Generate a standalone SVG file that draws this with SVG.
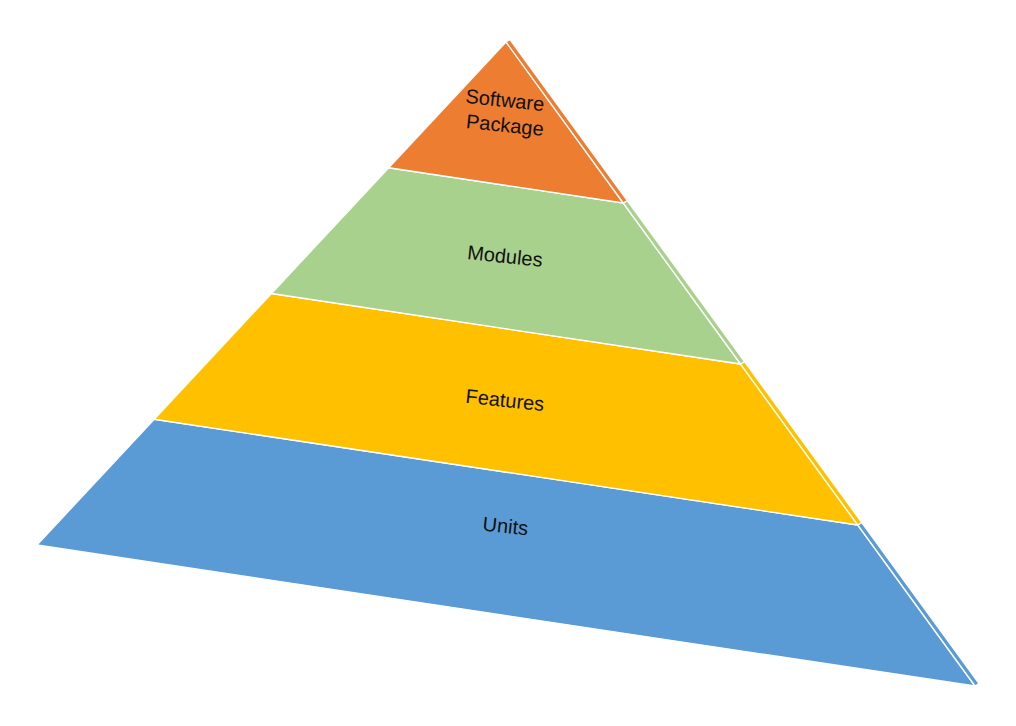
<svg xmlns="http://www.w3.org/2000/svg" width="1016" height="726" viewBox="0 0 1016 726">
<style>
.f{stroke:#ffffff;stroke-width:1.3;stroke-linejoin:round}
.o{fill:#ED7D31}.g{fill:#A9D18E}.y{fill:#FFC000}.b{fill:#5B9BD5}
.t{font-family:"Liberation Sans",Arial,sans-serif;font-size:20px;fill:#111111;text-anchor:middle}
</style>
<rect width="1016" height="726" fill="#ffffff"/>
<g id="units">
<polygon class="f b" points="154.25,419.25 857.75,525 975,686 37,545"/>
<polygon class="f b" points="857.75,525 861.75,522.5 979,683.5 975,686"/>
<text class="t" transform="translate(505.5,526) rotate(6)" y="7">Units</text>
</g>
<g id="features">
<polygon class="f y" points="271.5,293.5 740.5,364 857.75,525 154.25,419.25"/>
<polygon class="f y" points="740.5,364 744.5,361.5 861.75,522.5 857.75,525"/>
<text class="t" transform="translate(505,400) rotate(6)" y="7">Features</text>
</g>
<g id="modules">
<polygon class="f g" points="388.75,167.75 623.25,203 740.5,364 271.5,293.5"/>
<polygon class="f g" points="623.25,203 627.25,200.5 744.5,361.5 740.5,364"/>
<text class="t" transform="translate(505,256) rotate(6)" y="7">Modules</text>
</g>
<g id="software-package">
<polygon class="f o" points="506,42 623.25,203 388.75,167.75"/>
<polygon class="f o" points="506,42 510,39.5 627.25,200.5 623.25,203"/>
<text class="t" transform="translate(505,100) rotate(6)" y="7">Software</text>
<text class="t" transform="translate(505,125) rotate(6)" y="7">Package</text>
</g>
<g id="connectors"/>
</svg>
